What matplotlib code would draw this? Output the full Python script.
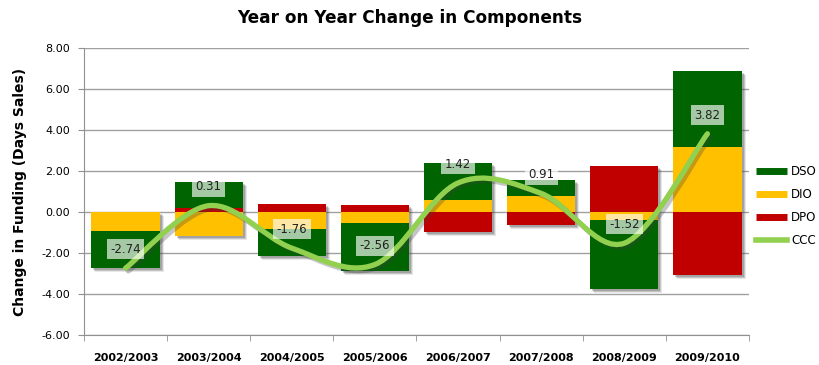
import matplotlib.pyplot as plt
import numpy as np
from matplotlib.path import Path
from matplotlib.patches import PathPatch
from matplotlib.lines import Line2D
import matplotlib.patheffects as pe
import matplotlib.transforms as mtransforms

# data
periods = ['2002/2003', '2003/2004', '2004/2005', '2005/2006',
           '2006/2007', '2007/2008', '2008/2009', '2009/2010']
dso = [-1.80, 1.30, -1.35, -2.35, 1.79, 0.78, -3.38, 3.71]
dio = [-0.94, -1.17, -0.81, -0.53, 0.60, 0.78, -0.37, 3.19]
dpo = [0.00, 0.18, 0.40, 0.32, -0.97, -0.65, 2.23, -3.08]
ccc = [-2.74, 0.31, -1.76, -2.56, 1.42, 0.91, -1.52, 3.82]

colors = {'DSO': '#006400', 'DIO': '#FFC000', 'DPO': '#C00000'}
line_color = '#92D050'

fig = plt.figure(figsize=(8.2, 3.65), dpi=100)
ax = fig.add_axes([0.1024, 0.0822, 0.811, 0.786])

x = np.arange(len(periods))
bar_w = 0.82

# Excel-style stacking: first series closest to zero, positives and negatives separately
series = [('DPO', np.array(dpo)), ('DIO', np.array(dio)), ('DSO', np.array(dso))]
pos_total = sum(np.clip(v, 0, None) for _, v in series)
neg_total = sum(np.clip(v, None, 0) for _, v in series)

# soft drop shadow behind each whole stack
for k, a in [(3, 0.12), (2, 0.2), (1, 0.25)]:
    shadow_tr = mtransforms.offset_copy(ax.transData, fig=fig, x=k + 1, y=-(k + 1), units='dots')
    ax.bar(x, pos_total - neg_total, bottom=neg_total, width=bar_w, color='#404040',
           alpha=a, transform=shadow_tr, zorder=1.5, lw=0)

pos_base = np.zeros(len(x))
neg_base = np.zeros(len(x))
for name, vals in series:
    base = np.where(vals >= 0, pos_base, neg_base)
    ax.bar(x, vals, bottom=base, width=bar_w, color=colors[name], zorder=2, lw=0)
    pos_base = pos_base + np.clip(vals, 0, None)
    neg_base = neg_base + np.clip(vals, None, 0)

# smoothed CCC line (Catmull-Rom as cubic Bezier segments)
pts = np.column_stack([x, ccc])
verts = [pts[0]]
codes = [Path.MOVETO]
for i in range(len(pts) - 1):
    p0 = pts[max(i - 1, 0)]
    p1 = pts[i]
    p2 = pts[i + 1]
    p3 = pts[min(i + 2, len(pts) - 1)]
    c1 = p1 + (p2 - p0) / 6.0
    c2 = p2 - (p3 - p1) / 6.0
    verts += [c1, c2, p2]
    codes += [Path.CURVE4] * 3
curve = PathPatch(Path(verts, codes), facecolor='none', edgecolor=line_color,
                  lw=3.8, capstyle='round', joinstyle='round', zorder=4)
curve.set_path_effects([pe.SimpleLineShadow(offset=(2, -2), shadow_color='#404040', alpha=0.3),
                        pe.Normal()])
ax.add_patch(curve)

for xi, v in zip(x, ccc):
    ax.annotate(f'{v:.2f}', (xi, v), xytext=(0, 13.5), textcoords='offset points',
                ha='center', va='center', fontsize=8.5, color='#202020', zorder=6,
                bbox=dict(boxstyle='square,pad=0.3', fc='white', ec='none', alpha=0.65))

ax.set_xlim(-0.5, len(x) - 0.5)
ax.set_ylim(-6, 8)
ax.set_yticks(np.arange(-6, 9, 2))
ax.set_yticklabels([f'{t:.2f}' for t in np.arange(-6, 9, 2)], fontsize=8)
ax.set_xticks(x)
ax.set_xticklabels(periods, fontsize=8, fontweight='bold')
ax.set_xticks(np.arange(-0.5, len(x), 1), minor=True)
ax.tick_params(axis='x', which='major', length=0, pad=13)
ax.tick_params(axis='x', which='minor', length=4, color='#909090')
ax.tick_params(axis='y', length=4, color='#909090', pad=6)
ax.grid(axis='y', color='#a0a0a0', lw=1, zorder=0)
ax.set_axisbelow(True)
for s in ['top', 'right']:
    ax.spines[s].set_visible(False)
for s in ['left', 'bottom']:
    ax.spines[s].set_color('#909090')

ax.set_ylabel('Change in Funding (Days Sales)', fontsize=10, fontweight='bold', labelpad=10)
fig.text(0.5, 0.95, 'Year on Year Change in Components', ha='center', va='center',
         fontsize=12.2, fontweight='bold')

handles = [Line2D([0], [0], color=colors['DSO'], lw=5, solid_capstyle='butt'),
           Line2D([0], [0], color=colors['DIO'], lw=5, solid_capstyle='butt'),
           Line2D([0], [0], color=colors['DPO'], lw=5, solid_capstyle='butt'),
           Line2D([0], [0], color=line_color, lw=4)]
fig.legend(handles, ['DSO', 'DIO', 'DPO', 'CCC'], loc='center left',
           bbox_to_anchor=(0.915, 0.435), frameon=False, fontsize=8.5,
           handlelength=2.6, handletextpad=0.35, labelspacing=0.85, borderpad=0)

fig.savefig('out.png', dpi=100)
